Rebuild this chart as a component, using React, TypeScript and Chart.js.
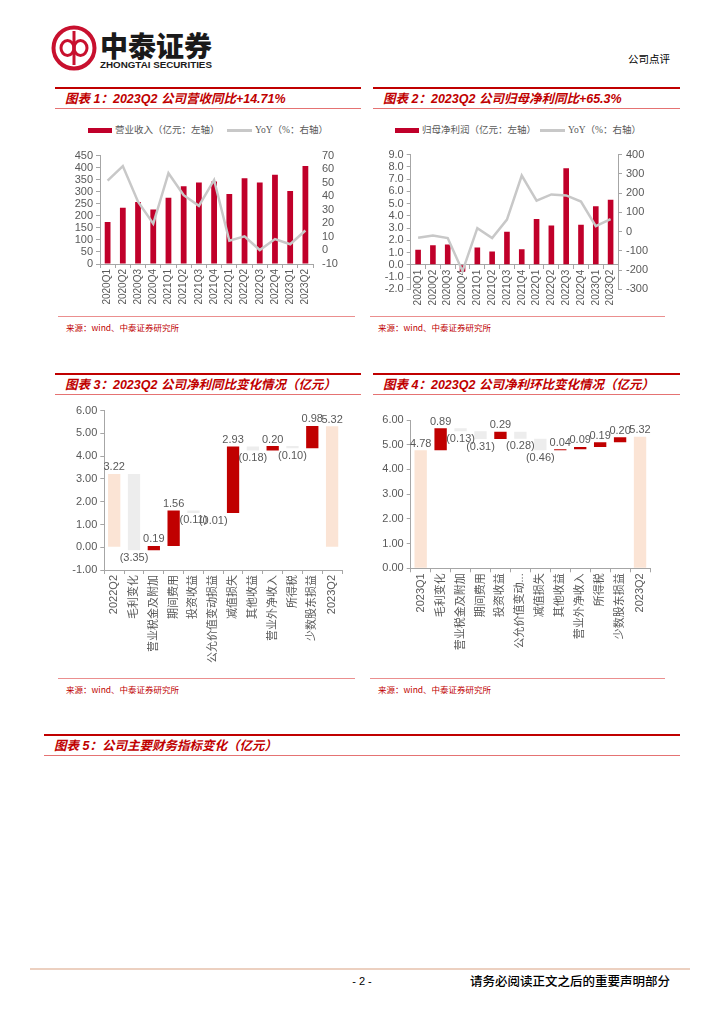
import React, { useEffect, useRef } from 'react';
import { Chart, registerables } from 'chart.js';

Chart.register(...registerables);
Chart.defaults.font.family = '"Liberation Sans", "Noto Sans CJK SC", sans-serif';
Chart.defaults.color = '#595959';

// ---------- data ----------
const quarters = ['2020Q1', '2020Q2', '2020Q3', '2020Q4', '2021Q1', '2021Q2', '2021Q3', '2021Q4', '2022Q1', '2022Q2', '2022Q3', '2022Q4', '2023Q1', '2023Q2'];
const revenue = [174, 233, 257, 226, 275, 323, 338, 342, 291, 356, 338, 371, 303, 407];
const revenueYoY = [51.6, 62.3, 36.0, 19.7, 57.0, 40.8, 32.9, 52.0, 7.2, 10.4, 0.3, 8.4, 4.6, 14.71];
const netProfit = [1.23, 1.60, 1.65, -0.55, 1.42, 1.09, 2.70, 1.27, 3.74, 3.22, 7.88, 3.27, 4.78, 5.32];
const netProfitYoY = [-32, -20, -34, -206, 18, -34, 62, 291, 161, 193, 188, 156, 28, 65.3];

const yoyItems = ['2022Q2', '毛利变化', '营业税金及附加', '期间费用', '投资收益', '公允价值变动损益', '减值损失', '其他收益', '营业外净收入', '所得税', '少数股东损益', '2023Q2'];
const yoyChanges = [3.22, -3.35, 0.19, 1.56, -0.11, -0.01, 2.93, -0.18, 0.20, -0.10, 0.98, 5.32];

const qoqItems = ['2023Q1', '毛利变化', '营业税金及附加', '期间费用', '投资收益', '公允价值变动...', '减值损失', '其他收益', '营业外净收入', '所得税', '少数股东损益', '2023Q2'];
const qoqChanges = [4.78, 0.89, -0.13, -0.31, 0.29, -0.28, -0.46, 0.04, 0.09, 0.19, 0.20, 5.32];

// ---------- styles ----------
const RED_BAR = '#c0002a';
const WF_RED = '#c00000';
const WF_GRAY = '#ededed';
const WF_PEACH = '#fbe4d5';
const LINE_GRAY = '#c8c8c8';
const AXIS = '#a6a6a6';
const TXT = '#595959';

const wfLabelPlugin = {
  id: 'wfLabels',
  afterDatasetsDraw(chart: any, _args: any, opts: any) {
    const meta = chart.getDatasetMeta(0);
    const ctx = chart.ctx;
    ctx.save();
    ctx.font = '11px "Liberation Sans", sans-serif';
    ctx.fillStyle = TXT;
    ctx.textAlign = 'center';
    meta.data.forEach((el: any, i: number) => {
      const p = el.getProps(['x', 'y', 'base'], true);
      const top = Math.min(p.y, p.base);
      const bottom = Math.max(p.y, p.base);
      const txt = opts.texts[i];
      if (opts.below[i]) {
        ctx.textBaseline = 'top';
        ctx.fillText(txt, p.x, bottom + 2);
      } else {
        ctx.textBaseline = 'bottom';
        ctx.fillText(txt, p.x, top - 1);
      }
    });
    ctx.restore();
  },
};

function buildWaterfall(changes: number[]) {
  const ranges: [number, number][] = [];
  const colors: string[] = [];
  const texts: string[] = [];
  const below: boolean[] = [];
  let cum = 0;
  changes.forEach((v, i) => {
    const total = i === 0 || i === changes.length - 1;
    if (total) {
      ranges.push([0, v]);
      cum = v;
      colors.push(WF_PEACH);
    } else {
      ranges.push([cum, cum + v]);
      cum += v;
      colors.push(v > 0 ? WF_RED : WF_GRAY);
    }
    texts.push(v < 0 ? `(${(-v).toFixed(2)})` : v.toFixed(2));
    below.push(!total && v < 0);
  });
  return { ranges, colors, texts, below };
}

function comboConfig(p: {
  bars: number[]; line: number[];
  lMin: number; lMax: number; lStep: number; lDec: number; lWidth: number; lBorder: boolean;
  rMin: number; rMax: number; rStep: number; rWidth: number; rBorder: boolean;
  padTop: number; padBottom: number; xAtZero: boolean;
}): any {
  return {
    type: 'bar',
    data: {
      labels: quarters,
      datasets: [
        { type: 'line', data: p.line, yAxisID: 'y1', borderColor: LINE_GRAY, borderWidth: 2.5, pointRadius: 0, tension: 0, order: 0 },
        { type: 'bar', data: p.bars, yAxisID: 'y', backgroundColor: RED_BAR, barPercentage: 0.38, categoryPercentage: 1, order: 1 },
      ],
    },
    options: {
      animation: false,
      responsive: false,
      layout: { padding: { top: p.padTop, bottom: p.padBottom, left: 0, right: 0 } },
      plugins: { legend: { display: false }, tooltip: { enabled: false } },
      scales: {
        x: {
          position: p.xAtZero ? { y: 0 } : 'bottom',
          ticks: { autoSkip: false, maxRotation: 90, minRotation: 90, font: { size: 10 }, color: TXT, padding: 1 },
          grid: { drawOnChartArea: false, tickLength: 4, color: AXIS, offset: true },
          border: { color: AXIS },
          afterFit: (s: any) => { s.height = 50; },
        },
        y: {
          position: 'left', min: p.lMin, max: p.lMax,
          ticks: { autoSkip: false, stepSize: p.lStep, font: { size: 11 }, color: TXT, padding: 3, callback: (v: any) => Number(v).toFixed(p.lDec) },
          grid: { drawOnChartArea: false, tickLength: 4, color: AXIS },
          border: { display: p.lBorder, color: AXIS },
          afterFit: (s: any) => { s.width = p.lWidth; },
        },
        y1: {
          position: 'right', min: p.rMin, max: p.rMax,
          ticks: { autoSkip: false, stepSize: p.rStep, font: { size: 11 }, color: TXT, padding: p.rBorder ? 4 : 5 },
          grid: { display: p.rBorder, drawOnChartArea: false, tickLength: 4, color: AXIS },
          border: { display: p.rBorder, color: AXIS },
          afterFit: (s: any) => { s.width = p.rWidth; },
        },
      },
    },
  };
}

function waterfallConfig(items: string[], changes: number[], p: { yMin: number; padTop: number; yWidth: number; xHeight: number }): any {
  const wf = buildWaterfall(changes);
  return {
    type: 'bar',
    data: {
      labels: items,
      datasets: [{ data: wf.ranges, backgroundColor: wf.colors, barPercentage: 0.62, categoryPercentage: 1 }],
    },
    options: {
      animation: false,
      responsive: false,
      layout: { padding: { top: p.padTop, right: 5, left: 0, bottom: 0 } },
      plugins: { legend: { display: false }, tooltip: { enabled: false }, wfLabels: { texts: wf.texts, below: wf.below } },
      scales: {
        x: {
          ticks: { autoSkip: false, maxRotation: 90, minRotation: 90, font: { size: 11 }, color: TXT, padding: 1 },
          grid: { drawOnChartArea: false, tickLength: 4, color: AXIS, offset: true },
          border: { color: AXIS },
          afterFit: (s: any) => { s.height = p.xHeight; },
        },
        y: {
          min: p.yMin, max: 6,
          ticks: { autoSkip: false, stepSize: 1, font: { size: 11 }, color: TXT, padding: 3, callback: (v: any) => Number(v).toFixed(2) },
          grid: { drawOnChartArea: false, tickLength: 4, color: AXIS },
          border: { color: AXIS },
          afterFit: (s: any) => { s.width = p.yWidth; },
        },
      },
    },
    plugins: [wfLabelPlugin],
  };
}

function ChartBox({ left, top, width, height, make }: { left: number; top: number; width: number; height: number; make: () => any }) {
  const ref = useRef<HTMLCanvasElement>(null);
  useEffect(() => {
    const chart = new Chart(ref.current as HTMLCanvasElement, make());
    return () => chart.destroy();
  }, []);
  return <canvas ref={ref} width={width} height={height} style={{ position: 'absolute', left, top, width, height }} />;
}

const titleFont = '"Liberation Sans", "Noto Sans CJK SC", sans-serif';

function SectionTitle({ x1, x2, y, text }: { x1: number; x2: number; y: number; text: string }) {
  return (
    <>
      <div style={{ position: 'absolute', left: x1, top: y - 1, width: x2 - x1, height: 2, background: '#c00000' }} />
      <div style={{ position: 'absolute', left: x1 + 10, top: y + 2, height: 18, lineHeight: '18px', fontFamily: titleFont, fontSize: 12.5, fontWeight: 700, fontStyle: 'italic', color: '#c00000', whiteSpace: 'nowrap' }}>{text}</div>
      <div style={{ position: 'absolute', left: x1, top: y + 20, width: x2 - x1, height: 1, background: '#e57373' }} />
    </>
  );
}

function Source({ x1, x2, y }: { x1: number; x2: number; y: number }) {
  return (
    <>
      <div style={{ position: 'absolute', left: x1, top: y, width: x2 - x1, height: 1, background: '#eb8f8f' }} />
      <div style={{ position: 'absolute', left: x1 + 8, top: y + 5, lineHeight: '12px', fontFamily: '"Noto Sans CJK SC", sans-serif', fontSize: 8.5, color: '#c00000', whiteSpace: 'nowrap' }}>来源：wind、中泰证券研究所</div>
    </>
  );
}

function Legend({ rectX, textX, lineX, text2X, label }: { rectX: number; textX: number; lineX: number; text2X: number; label: string }) {
  const txt: any = { position: 'absolute', top: 124, lineHeight: '12px', fontFamily: '"Liberation Serif", "Noto Sans CJK SC", serif', fontSize: 9.5, color: TXT, whiteSpace: 'nowrap' };
  return (
    <>
      <div style={{ position: 'absolute', left: rectX, top: 127.5, width: 24, height: 5, background: RED_BAR }} />
      <div style={{ ...txt, left: textX }}>{label}</div>
      <div style={{ position: 'absolute', left: lineX, top: 129, width: 25, height: 2.5, background: LINE_GRAY }} />
      <div style={{ ...txt, left: text2X }}>YoY（%：右轴）</div>
    </>
  );
}

export default function App() {
  return (
    <div style={{ position: 'absolute', left: 0, top: 0, width: 724, height: 1024, background: '#fff', overflow: 'hidden' }}>
      {/* header */}
      <svg style={{ position: 'absolute', left: 49, top: 23 }} width={50} height={50} viewBox="0 0 50 50">
        <circle cx={25} cy={25} r={20.5} fill="none" stroke="#c8102e" strokeWidth={4} />
        <ellipse cx={18.5} cy={25} rx={6.5} ry={7.5} fill="none" stroke="#c8102e" strokeWidth={3} />
        <ellipse cx={31.5} cy={25} rx={6.5} ry={7.5} fill="none" stroke="#c8102e" strokeWidth={3} />
        <line x1={25} y1={8} x2={25} y2={42} stroke="#c8102e" strokeWidth={3} />
      </svg>
      <div style={{ position: 'absolute', left: 100, top: 31, lineHeight: '29px', fontFamily: '"Noto Sans CJK SC", sans-serif', fontSize: 28, fontWeight: 900, color: '#1a1a1a', whiteSpace: 'nowrap' }}>中泰证券</div>
      <div style={{ position: 'absolute', left: 100, top: 59, lineHeight: '11px', fontFamily: '"Liberation Sans", sans-serif', fontSize: 9.8, fontWeight: 700, color: '#1a1a1a', whiteSpace: 'nowrap' }}>ZHONGTAI SECURITIES</div>
      <div style={{ position: 'absolute', left: 628, top: 52, lineHeight: '13px', fontFamily: '"Noto Sans CJK SC", sans-serif', fontSize: 10.5, color: '#000', whiteSpace: 'nowrap' }}>公司点评</div>

      {/* chart 1 */}
      <SectionTitle x1={55} x2={361} y={88} text="图表 1：2023Q2 公司营收同比+14.71%" />
      <Legend rectX={88} textX={115} lineX={227} text2X={255} label="营业收入（亿元：左轴）" />
      <ChartBox left={57} top={144} width={296} height={170} make={() => comboConfig({
        bars: revenue, line: revenueYoY,
        lMin: 0, lMax: 450, lStep: 50, lDec: 0, lWidth: 43, lBorder: true,
        rMin: -10, rMax: 70, rStep: 10, rWidth: 40, rBorder: false,
        padTop: 8.7, padBottom: 0, xAtZero: false,
      })} />
      <Source x1={58} x2={355} y={316} />

      {/* chart 2 */}
      <SectionTitle x1={373} x2={680} y={88} text="图表 2：2023Q2 公司归母净利同比+65.3%" />
      <Legend rectX={395} textX={422} lineX={540} text2X={568} label="归母净利润（亿元：左轴）" />
      <ChartBox left={372} top={144} width={290} height={170} make={() => comboConfig({
        bars: netProfit, line: netProfitYoY,
        lMin: -2, lMax: 9, lStep: 1, lDec: 1, lWidth: 38.7, lBorder: true,
        rMin: -300, rMax: 400, rStep: 100, rWidth: 44, rBorder: true,
        padTop: 8.7, padBottom: 24.7, xAtZero: true,
      })} />
      <Source x1={370} x2={665} y={316} />

      {/* chart 3 */}
      <SectionTitle x1={55} x2={361} y={374} text="图表 3：2023Q2 公司净利同比变化情况（亿元）" />
      <ChartBox left={57} top={400} width={290} height={275} make={() => waterfallConfig(yoyItems, yoyChanges, { yMin: -1, padTop: 10.7, yWidth: 47.3, xHeight: 105 })} />
      <Source x1={58} x2={355} y={678} />

      {/* chart 4 */}
      <SectionTitle x1={373} x2={680} y={374} text="图表 4：2023Q2 公司净利环比变化情况（亿元）" />
      <ChartBox left={372} top={405} width={283} height={270} make={() => waterfallConfig(qoqItems, qoqChanges, { yMin: 0, padTop: 15, yWidth: 38.7, xHeight: 106.7 })} />
      <Source x1={370} x2={665} y={678} />

      {/* table 5 header */}
      <SectionTitle x1={44} x2={680} y={735} text="图表 5：公司主要财务指标变化（亿元）" />

      {/* footer */}
      <div style={{ position: 'absolute', left: 30, top: 968, width: 660, height: 2, background: '#ecd0c0' }} />
      <div style={{ position: 'absolute', left: 342, top: 974, width: 40, textAlign: 'center', lineHeight: '14px', fontFamily: '"Liberation Sans", sans-serif', fontSize: 11, color: '#000' }}>- 2 -</div>
      <div style={{ position: 'absolute', left: 470, top: 973, lineHeight: '15px', fontFamily: '"Noto Sans CJK SC", sans-serif', fontSize: 12.5, fontWeight: 500, color: '#000', whiteSpace: 'nowrap' }}>请务必阅读正文之后的重要声明部分</div>
    </div>
  );
}
